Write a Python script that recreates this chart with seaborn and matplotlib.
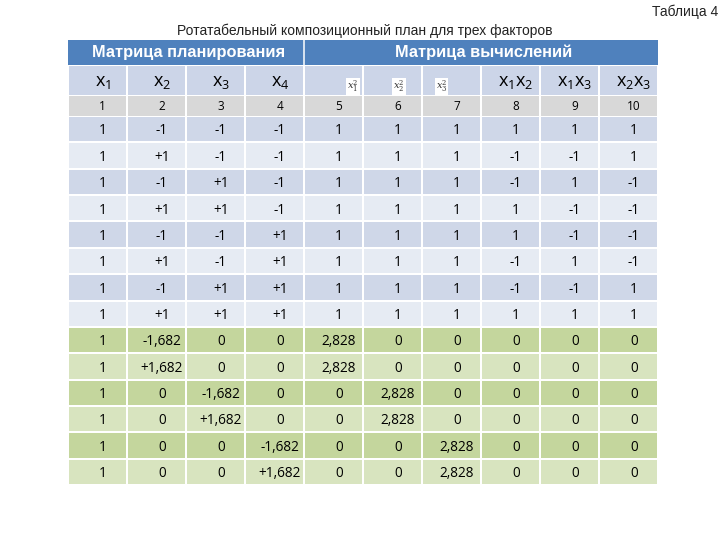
import numpy as np
import matplotlib
matplotlib.use('Agg')
import matplotlib.pyplot as plt
import seaborn as sns
from matplotlib.colors import ListedColormap

sns.set_theme(style='white')
plt.rcParams['font.family'] = ['Open Sans', 'DejaVu Sans']
plt.rcParams['mathtext.fontset'] = 'dejavuserif'

# данные таблицы
title = 'Ротатабельный композиционный план для трех факторов'
table_no = 'Таблица 4'
group_names = ['Матрица планирования', 'Матрица вычислений']
group_spans = [4, 6]
col_headers = [r'$\mathregular{x_1}$', r'$\mathregular{x_2}$', r'$\mathregular{x_3}$', r'$\mathregular{x_4}$',
               r'$x_1^2$', r'$x_2^2$', r'$x_3^2$',
               r'$\mathregular{x_1x_2}$', r'$\mathregular{x_1x_3}$', r'$\mathregular{x_2x_3}$']
col_numbers = ['1', '2', '3', '4', '5', '6', '7', '8', '9', '10']

x1 = ['1'] * 14
x2 = ['-1', '+1', '-1', '+1', '-1', '+1', '-1', '+1', '-1,682', '+1,682', '0', '0', '0', '0']
x3 = ['-1', '-1', '+1', '+1', '-1', '-1', '+1', '+1', '0', '0', '-1,682', '+1,682', '0', '0']
x4 = ['-1', '-1', '-1', '-1', '+1', '+1', '+1', '+1', '0', '0', '0', '0', '-1,682', '+1,682']
x1sq = ['1'] * 8 + ['2,828', '2,828', '0', '0', '0', '0']
x2sq = ['1'] * 8 + ['0', '0', '2,828', '2,828', '0', '0']
x3sq = ['1'] * 8 + ['0', '0', '0', '0', '2,828', '2,828']
x1x2 = ['1', '-1', '-1', '1', '1', '-1', '-1', '1'] + ['0'] * 6
x1x3 = ['1', '-1', '1', '-1', '-1', '1', '-1', '1'] + ['0'] * 6
x2x3 = ['1', '1', '-1', '-1', '-1', '-1', '1', '1'] + ['0'] * 6

columns = [x1, x2, x3, x4, x1sq, x2sq, x3sq, x1x2, x1x3, x2x3]
cells = np.array(columns).T
n_rows, n_cols = cells.shape
n_core = 8  # ядро плана, остальные - звездные точки

# цвета
header_blue = '#4F81BD'
colhead_blue = '#CCD5E8'
num_gray = '#D8D8D8'
row_colors = ['#CFD7E8', '#E6EBF3', '#C4D69D', '#D8E4BF']

W, H = 720, 540
fig = plt.figure(figsize=(7.2, 5.4), dpi=100)


def px_axes(x0, y0, x1_, y1_):
    return fig.add_axes([x0 / W, 1 - y1_ / H, (x1_ - x0) / W, (y1_ - y0) / H])


L, R = 68, 658
dx = 0.09  # текст чуть правее центра ячейки
lw = 1.1

fig.text(718 / W, 1 - 12 / H, table_no, ha='right', va='center', fontsize=10,
         family=['Liberation Sans Narrow', 'Liberation Sans'], color='#222222')
fig.text(365 / W, 1 - 31 / H, title, ha='center', va='center', fontsize=10,
         family=['Liberation Sans'], color='#222222')

# верхний заголовок
ax0 = px_axes(L, 40, R, 64.5)
sns.heatmap(np.zeros((1, n_cols)), cmap=ListedColormap([header_blue]), cbar=False,
            xticklabels=False, yticklabels=False, ax=ax0)
start = 0
for name, span in zip(group_names, group_spans):
    ax0.text(start + span / 2 + 0.05, 0.5, name, ha='center', va='center', color='white',
             fontsize=11.8, fontweight='bold', family=['Liberation Sans'])
    if start > 0:
        ax0.axvline(start, color='white', lw=lw)
    start += span

# строка обозначений
ax1 = px_axes(L, 65.5, R, 95.5)
sns.heatmap(np.zeros((1, n_cols)), cmap=ListedColormap([colhead_blue]), cbar=False,
            linewidths=lw, linecolor='white', xticklabels=False, yticklabels=False, ax=ax1)
sq_pos = {4: 0.83, 5: 0.61, 6: 0.33}
for j, lab in enumerate(col_headers):
    if j in sq_pos:
        ax1.text(j + sq_pos[j], 0.7, lab, ha='center', va='center', fontsize=7, color='#333333',
                 bbox=dict(facecolor='white', edgecolor='none', pad=0.6))
    else:
        ax1.text(j + 0.5 + dx, 0.55, lab, ha='center', va='center', fontsize=13, color='black')

# строка номеров столбцов
ax2 = px_axes(L, 95, R, 116.5)
sns.heatmap(np.zeros((1, n_cols)), cmap=ListedColormap([num_gray]), cbar=False,
            linewidths=lw, linecolor='white', xticklabels=False, yticklabels=False, ax=ax2)
for j, lab in enumerate(col_numbers):
    ax2.text(j + 0.5 + dx, 0.71, lab, ha='center', va='baseline', fontsize=8.5, color='black')

# данные
codes = np.zeros((n_rows, n_cols))
for i in range(n_rows):
    base = 0 if i < n_core else 2
    codes[i, :] = base + (i % 2)
ax3 = px_axes(L, 116, R, 485)
sns.heatmap(codes, cmap=ListedColormap(row_colors), vmin=-0.5, vmax=3.5, cbar=False,
            linewidths=lw, linecolor='white', xticklabels=False, yticklabels=False, ax=ax3)
for i in range(n_rows):
    for j in range(n_cols):
        ax3.text(j + 0.5 + dx, i + 0.7, cells[i, j], ha='center', va='baseline',
                 fontsize=9.8, color='black')

fig.savefig('out.png', dpi=100)
